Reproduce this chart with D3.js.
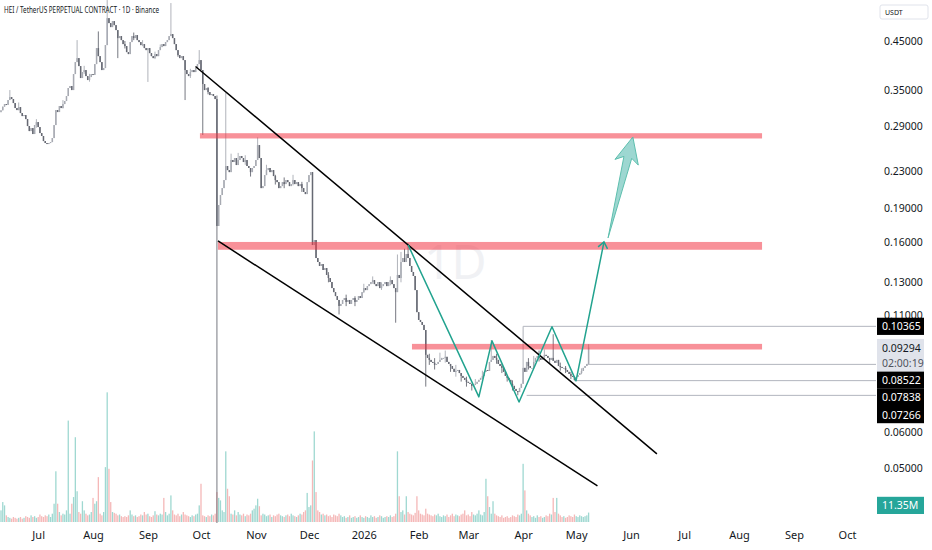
<!DOCTYPE html>
<html>
<head>
<meta charset="utf-8">
<script src="https://cdn.jsdelivr.net/npm/d3@7"></script>
<style>
  html, body { margin: 0; padding: 0; background: #fff; }
  svg { display: block; font-family: "Noto Sans", Roboto, sans-serif; }
</style>
</head>
<body>
<div id="chart"></div>
<script>
// daily candles, first one on 10 Jun 2025
var firstDay = new Date(2025, 5, 10);

// daily closes (USDT)
var closes = [
  0.3150, 0.3210, 0.3253, 0.3240, 0.3321, 0.3372, 0.3338, 0.3270, 0.3187, 0.3154,
  0.3203, 0.3106, 0.3058, 0.3074, 0.3011, 0.2905, 0.2831, 0.2875, 0.2788, 0.2920,
  0.2965, 0.2890, 0.2802, 0.2760, 0.2689, 0.2662, 0.2648, 0.2662, 0.2675, 0.2731,
  0.2920, 0.3154, 0.3122, 0.3220, 0.3187, 0.3253, 0.3304, 0.3390, 0.3533, 0.3569,
  0.3496, 0.3796, 0.4037, 0.4121, 0.3955, 0.3719, 0.3835, 0.3875, 0.3757, 0.3681,
  0.3738, 0.3796, 0.3780, 0.3996, 0.4339, 0.4163, 0.4037, 0.3875, 0.3915, 0.4406,
  0.5062, 0.4934, 0.4834, 0.4985, 0.4883, 0.4760, 0.4568, 0.4615, 0.4521, 0.4429,
  0.4384, 0.4250, 0.4207, 0.4475, 0.4615, 0.4568, 0.4639, 0.4521, 0.4475, 0.4406,
  0.4429, 0.4339, 0.4294, 0.4339, 0.4228, 0.4163, 0.4121, 0.4207, 0.4163, 0.4294,
  0.4361, 0.4429, 0.4384, 0.4475, 0.4521, 0.4615, 0.4663, 0.4568, 0.4429, 0.4294,
  0.4185, 0.4121, 0.4163, 0.4079, 0.3875, 0.3796, 0.3757, 0.3835, 0.3875, 0.3835,
  0.3915, 0.3996, 0.4079, 0.3875, 0.3606, 0.3496, 0.3533, 0.3460, 0.3407, 0.3425,
  0.3390, 0.3338, 0.1737, 0.1935, 0.2037, 0.2111, 0.2200, 0.2365, 0.2316, 0.2292,
  0.2439, 0.2414, 0.2464, 0.2377, 0.2439, 0.2490, 0.2464, 0.2414, 0.2439, 0.2365,
  0.2341, 0.2292, 0.2341, 0.2365, 0.2439, 0.2634, 0.2464, 0.2111, 0.2133, 0.2257,
  0.2316, 0.2341, 0.2292, 0.2316, 0.2246, 0.2200, 0.2177, 0.2111, 0.2133, 0.2177,
  0.2155, 0.2200, 0.2177, 0.2133, 0.2155, 0.2200, 0.2155, 0.2177, 0.2133, 0.2155,
  0.2111, 0.2069, 0.2047, 0.2177, 0.2257, 0.2292, 0.1575, 0.1616, 0.1473, 0.1443,
  0.1414, 0.1428, 0.1385, 0.1399, 0.1350, 0.1329, 0.1302, 0.1262, 0.1236, 0.1211,
  0.1187, 0.1151, 0.1163, 0.1187, 0.1199, 0.1175, 0.1187, 0.1163, 0.1187, 0.1199,
  0.1175, 0.1187, 0.1211, 0.1199, 0.1236, 0.1262, 0.1249, 0.1275, 0.1288, 0.1302,
  0.1315, 0.1288, 0.1275, 0.1302, 0.1262, 0.1275, 0.1288, 0.1302, 0.1275, 0.1302,
  0.1315, 0.1288, 0.1262, 0.1236, 0.1350, 0.1329, 0.1443, 0.1473, 0.1443, 0.1504,
  0.1473, 0.1414, 0.1371, 0.1343, 0.1249, 0.1115, 0.1071, 0.1060, 0.1044, 0.1017,
  0.0895, 0.0881, 0.0872, 0.0863, 0.0859, 0.0850, 0.0854, 0.0863, 0.0872, 0.0881,
  0.0881, 0.0886, 0.0863, 0.0854, 0.0845, 0.0833, 0.0820, 0.0824, 0.0828, 0.0815,
  0.0803, 0.0795, 0.0787, 0.0779, 0.0775, 0.0771, 0.0763, 0.0767, 0.0771, 0.0779,
  0.0787, 0.0795, 0.0803, 0.0820, 0.0828, 0.0824, 0.0863, 0.0872, 0.0890, 0.0881,
  0.0872, 0.0854, 0.0845, 0.0837, 0.0820, 0.0803, 0.0795, 0.0787, 0.0771, 0.0763,
  0.0751, 0.0743, 0.0739, 0.0755, 0.0771, 0.0837, 0.0820, 0.0863, 0.0845, 0.0837,
  0.0837, 0.0863, 0.0881, 0.0890, 0.0881, 0.0872, 0.0886, 0.0895, 0.0890, 0.0881,
  0.0872, 0.0881, 0.0868, 0.0859, 0.0872, 0.0845, 0.0841, 0.0837, 0.0837, 0.0828,
  0.0820, 0.0811, 0.0803, 0.0799, 0.0787, 0.0799, 0.0807, 0.0815, 0.0824, 0.0837,
  0.0845, 0.0854, 0.09294
];
var firstOpen = 0.3120;

// wicks: [day, high, low] (null = body edge)
var wicks = [
  [5, 0.3496, null], [10, 0.3280, 0.3150], [20, 0.3010, 0.2880], [35, 0.3320, 0.3180],
  [43, 0.4521, null], [47, 0.3960, 0.3800], [50, 0.3800, 0.3650], [55, 0.4727, null],
  [60, 0.5555, null], [66, null, 0.4121], [70, 0.4500, 0.4330], [75, 0.4700, 0.4520],
  [80, 0.4520, 0.4380], [83, null, 0.3645], [87, 0.4260, 0.4100], [90, 0.4420, 0.4300],
  [96, 0.5470, null], [100, 0.4270, 0.4150], [104, null, 0.3321], [107, 0.3900, 0.3720],
  [112, 0.4294, null], [114, null, 0.2775], [117, 0.3550, 0.3420], [122, 0.3400, 0.0360],
  [127, 0.3446, null], [130, 0.2520, 0.2380], [134, 0.2530, 0.2390], [138, 0.2500, 0.2380],
  [141, null, 0.2240], [145, 0.2740, null], [150, 0.2380, null], [155, 0.2260, 0.2150],
  [160, 0.2230, 0.2110], [165, 0.2260, 0.2140], [170, 0.2180, 0.2070], [185, 0.1370, 0.1300],
  [191, null, 0.1102], [195, 0.1220, 0.1150], [200, 0.1210, 0.1150], [205, 0.1290, 0.1230],
  [210, 0.1340, 0.1290], [215, 0.1300, 0.1250], [220, 0.1340, 0.1280], [223, null, 0.1056],
  [224, 0.1500, null], [226, 0.1520, 0.1300], [228, 0.1545, null], [230, 0.1590, null],
  [240, null, 0.0760], [242, 0.0900, 0.0850], [245, 0.0880, 0.0830], [248, 0.0905, null],
  [251, 0.0915, 0.0860], [254, null, 0.0820], [257, 0.0850, 0.0800], [260, null, 0.0780],
  [263, 0.0800, 0.0760], [266, null, 0.0745], [268, 0.0790, null], [272, 0.0825, 0.0790],
  [277, 0.0966, null], [280, 0.0900, 0.0855], [283, 0.0855, 0.0815], [286, null, 0.0780],
  [289, 0.0785, 0.0745], [292, null, 0.0727], [295, 0.10365, null], [298, 0.0880, 0.0830],
  [301, 0.0890, null], [304, 0.0915, 0.0865], [307, 0.0920, 0.0875], [310, null, 0.0855],
  [312, 0.0995, null], [316, 0.0860, 0.0825], [319, 0.0845, 0.0815], [322, 0.0820, 0.0790],
  [324, null, 0.0784], [328, 0.0835, 0.0810], [332, 0.0945, null]
];

// daily volume, millions
var volumes = [
  14, 24, 20, 8, 6, 5, 4, 6, 5, 4,
  5, 6, 4, 5, 7, 6, 5, 8, 6, 7,
  5, 6, 9, 7, 6, 8, 7, 9, 6, 10,
  22, 61, 22, 12, 8, 10, 9, 14, 122, 10,
  22, 30, 102, 37, 12, 10, 25, 14, 10, 8,
  9, 12, 29, 22, 25, 54, 10, 8, 12, 66,
  156, 64, 24, 12, 11, 10, 8, 9, 7, 6,
  7, 6, 8, 14, 9, 7, 8, 6, 7, 9,
  8, 12, 9, 10, 7, 6, 8, 13, 9, 8,
  10, 9, 29, 12, 8, 10, 32, 14, 9, 8,
  10, 7, 9, 12, 9, 8, 7, 6, 8, 7,
  9, 10, 20, 46, 8, 7, 6, 8, 7, 9,
  8, 10, 36, 29, 26, 14, 12, 85, 40, 31,
  10, 9, 14, 8, 12, 9, 8, 10, 7, 9,
  8, 10, 14, 16, 20, 28, 19, 8, 10, 9,
  7, 8, 9, 6, 8, 7, 9, 10, 8, 7,
  6, 8, 9, 7, 10, 8, 7, 6, 8, 10,
  9, 12, 14, 35, 18, 20, 74, 109, 36, 14,
  12, 9, 10, 8, 9, 7, 8, 6, 9, 8,
  7, 10, 8, 6, 7, 5, 6, 8, 5, 6,
  7, 5, 6, 8, 6, 5, 7, 6, 5, 8,
  6, 7, 5, 6, 8, 7, 5, 6, 7, 6,
  8, 6, 7, 10, 85, 31, 12, 14, 9, 31,
  12, 10, 9, 8, 11, 31, 14, 10, 9, 8,
  16, 10, 9, 8, 7, 9, 8, 10, 7, 6,
  8, 7, 9, 6, 8, 10, 7, 9, 8, 7,
  9, 10, 14, 8, 9, 7, 12, 9, 8, 10,
  14, 9, 8, 12, 52, 31, 18, 10, 25, 10,
  8, 7, 6, 8, 5, 6, 7, 5, 6, 8,
  7, 6, 9, 8, 10, 70, 38, 14, 10, 8,
  6, 7, 5, 8, 6, 7, 5, 6, 8, 7,
  10, 9, 29, 12, 29, 10, 8, 6, 7, 5,
  6, 8, 7, 6, 9, 7, 6, 8, 7, 6,
  7, 8, 11.35
];

var priceTicks = [0.45, 0.35, 0.29, 0.23, 0.19, 0.16, 0.13, 0.11, 0.06, 0.05, 0.042];

// drawings, anchored on [day, price]
var zones = [
  { from: 112.4, to: 430, hi: 0.2800, lo: 0.2725 },
  { from: 122.6, to: 430, hi: 0.1600, lo: 0.1537 },
  { from: 232.2, to: 430, hi: 0.0947, lo: 0.0920 }
];
var channel = [
  [[109.9, 0.3947], [370.6, 0.05378]],
  [[122.6, 0.1608], [337.0, 0.04561]]
];
var zigzag = [[230, 0.1576], [270, 0.0721], [277.4, 0.0962], [292.7, 0.0702],
              [311.3, 0.1034], [324.9, 0.0783], [340.7, 0.1600]];
var target = [[343, 0.1634], [357, 0.2746]];
var levels = [
  { from: 295, v: 0.10365 }, { from: 331, v: 0.08522 },
  { from: 324, v: 0.07838 }, { from: 297, v: 0.07266 }
];
var lastPrice = 0.09294, countdown = "02:00:19", lastVolume = "11.35M";

var width = 932, height = 550;
var plotW = 876, plotH = 523;

var dayMs = 864e5;
function dayDate(i) { return new Date(firstDay.getTime() + i * dayMs); }

var x = d3.scaleTime()
  .domain([firstDay, new Date(2026, 9, 1)])
  .range([1, 847]);
var y = d3.scaleLog()
  .domain([0.45, 0.05])
  .range([41, 468]);
var vy = d3.scaleLinear()
  .domain([0, 160])
  .range([522, 389]);

function px(p) { return [x(dayDate(p[0])), y(p[1])]; }

// build candles
var wickMap = {};
wicks.forEach(function(w) { wickMap[w[0]] = w; });
var candles = closes.map(function(c, i) {
  var o = i === 0 ? firstOpen : closes[i - 1];
  var w = wickMap[i];
  var h = Math.max(o, c), l = Math.min(o, c);
  if (w && w[1] !== null) h = Math.max(h, w[1]);
  if (w && w[2] !== null) l = Math.min(l, w[2]);
  return { i: i, date: dayDate(i), o: o, c: c, h: h, l: l, v: volumes[i], up: c >= o };
});

var upColor = "#a7aab2", downColor = "#666973";

var svg = d3.select("#chart").append("svg")
  .attr("width", width)
  .attr("height", height);

svg.append("defs").append("clipPath").attr("id", "plot")
  .append("rect").attr("x", 0).attr("y", 0).attr("width", plotW).attr("height", plotH);

var plot = svg.append("g").attr("clip-path", "url(#plot)");

// faint interval watermark
plot.append("text")
  .attr("x", 424).attr("y", 279)
  .attr("font-size", 48)
  .attr("fill", "#f0f1f4")
  .text("1D");

// volume
plot.selectAll(".vol")
  .data(candles)
  .enter().append("rect")
  .attr("class", "vol")
  .attr("x", function(d) { return x(d.date) - 0.65; })
  .attr("width", 1.3)
  .attr("y", function(d) { return vy(d.v); })
  .attr("height", function(d) { return vy(0) - vy(d.v); })
  .attr("fill", function(d) { return d.up ? "#9fd8d1" : "#f5b8b8"; });

// candles
var candle = plot.selectAll(".candle")
  .data(candles)
  .enter().append("g")
  .attr("class", "candle");

candle.append("line")
  .attr("x1", function(d) { return x(d.date); })
  .attr("x2", function(d) { return x(d.date); })
  .attr("y1", function(d) { return y(d.h); })
  .attr("y2", function(d) { return y(d.l); })
  .attr("stroke", function(d) { return d.up ? upColor : downColor; })
  .attr("stroke-width", 0.9);

candle.append("rect")
  .attr("x", function(d) { return x(d.date) - 0.75; })
  .attr("width", 1.5)
  .attr("y", function(d) { return y(Math.max(d.o, d.c)); })
  .attr("height", function(d) { return Math.max(1, Math.abs(y(d.o) - y(d.c))); })
  .attr("fill", function(d) { return d.up ? upColor : downColor; });

// horizontal rays
plot.selectAll(".level")
  .data(levels)
  .enter().append("line")
  .attr("class", "level")
  .attr("x1", function(d) { return x(dayDate(d.from)); })
  .attr("x2", plotW)
  .attr("y1", function(d) { return y(d.v); })
  .attr("y2", function(d) { return y(d.v); })
  .attr("stroke", "#b2b5be")
  .attr("stroke-width", 1);

// supply / demand zones
plot.selectAll(".zone")
  .data(zones)
  .enter().append("rect")
  .attr("class", "zone")
  .attr("x", function(d) { return x(dayDate(d.from)); })
  .attr("width", function(d) { return x(dayDate(d.to)) - x(dayDate(d.from)); })
  .attr("y", function(d) { return y(d.hi); })
  .attr("height", function(d) { return y(d.lo) - y(d.hi); })
  .attr("fill", "rgba(242,54,69,0.55)");

// falling wedge
var line = d3.line().x(function(p) { return px(p)[0]; }).y(function(p) { return px(p)[1]; });
plot.selectAll(".channel")
  .data(channel)
  .enter().append("path")
  .attr("class", "channel")
  .attr("d", line)
  .attr("fill", "none")
  .attr("stroke", "#000")
  .attr("stroke-width", 1.5);

// projected path
plot.append("path")
  .attr("d", line(zigzag))
  .attr("fill", "none")
  .attr("stroke", "#22a38f")
  .attr("stroke-width", 1.5)
  .attr("stroke-linejoin", "round");

// little head at the end of the path
(function() {
  var a = px(zigzag[zigzag.length - 2]), b = px(zigzag[zigzag.length - 1]);
  var dx = b[0] - a[0], dy = b[1] - a[1], len = Math.sqrt(dx * dx + dy * dy);
  var ux = dx / len, uy = dy / len, nx = -uy, ny = ux, s = 6;
  plot.append("path")
    .attr("d", "M" + (b[0] - ux * s + nx * s * 0.8) + "," + (b[1] - uy * s + ny * s * 0.8) +
               "L" + b[0] + "," + b[1] +
               "L" + (b[0] - ux * s - nx * s * 0.8) + "," + (b[1] - uy * s - ny * s * 0.8))
    .attr("fill", "none")
    .attr("stroke", "#22a38f")
    .attr("stroke-width", 1.5);
})();

// big target arrow
(function() {
  var t = px(target[0]), h = px(target[1]);
  var dx = h[0] - t[0], dy = h[1] - t[1], len = Math.sqrt(dx * dx + dy * dy);
  var ux = dx / len, uy = dy / len, nx = -uy, ny = ux;
  function at(back, side) {
    return [h[0] - ux * back + nx * side, h[1] - uy * back + ny * side];
  }
  var pts = [t, at(21, -4), at(26, -12), h, at(26, 12), at(21, 4)];
  plot.append("path")
    .attr("d", "M" + pts.map(function(p) { return p.join(","); }).join("L") + "Z")
    .attr("fill", "rgba(38,166,154,0.45)")
    .attr("stroke", "#5dbfae")
    .attr("stroke-width", 1);
})();

// title
svg.append("text")
  .attr("x", 4).attr("y", 13)
  .attr("font-size", 8)
  .attr("textLength", 155)
  .attr("lengthAdjust", "spacingAndGlyphs")
  .attr("fill", "#131722")
  .text("HEI / TetherUS PERPETUAL CONTRACT · 1D · Binance");

// time axis
var months = d3.timeMonth.range(new Date(2025, 6, 1), new Date(2026, 9, 2));
svg.append("g")
  .attr("transform", "translate(0," + plotH + ")")
  .call(d3.axisBottom(x)
    .tickValues(months)
    .tickSize(0)
    .tickPadding(8)
    .tickFormat(function(d) { return d.getMonth() === 0 ? d3.timeFormat("%Y")(d) : d3.timeFormat("%b")(d); }))
  .call(function(g) {
    g.select(".domain").remove();
    g.selectAll("text").attr("font-size", 11).attr("fill", "#131722")
      .attr("font-family", "'Noto Sans', Roboto, sans-serif");
  });

// price axis
svg.append("g")
  .attr("transform", "translate(" + plotW + ",0)")
  .call(d3.axisRight(y)
    .tickValues(priceTicks)
    .tickSize(0)
    .tickPadding(8)
    .tickFormat(d3.format(".5f")))
  .call(function(g) {
    g.select(".domain").remove();
    g.selectAll("text").attr("font-size", 10.5).attr("fill", "#131722")
      .attr("font-family", "'Noto Sans', Roboto, sans-serif");
  });

// currency box
svg.append("rect")
  .attr("x", 880).attr("y", 5).attr("width", 48).attr("height", 14).attr("rx", 2)
  .attr("fill", "#fff").attr("stroke", "#e0e3eb");
svg.append("text")
  .attr("x", 885).attr("y", 15)
  .attr("font-size", 7).attr("fill", "#131722")
  .text("USDT");

// price labels on the axis, stacked so they don't overlap
var tags = [
  { v: 0.10365, bg: "#000", fg: "#fff" },
  { v: lastPrice, bg: "#e0e3eb", fg: "#131722", sub: countdown },
  { v: 0.08522, bg: "#000", fg: "#fff" },
  { v: 0.07838, bg: "#000", fg: "#fff" },
  { v: 0.07266, bg: "#000", fg: "#fff" }
];
var lineH = 17.2, prevBottom = -Infinity;
tags.forEach(function(t) {
  var top = Math.max(y(t.v) - lineH / 2, prevBottom);
  var h = t.sub ? lineH * 1.9 : lineH;
  t.top = top; t.h = h;
  prevBottom = top + h;
});
var tag = svg.selectAll(".tag")
  .data(tags)
  .enter().append("g")
  .attr("class", "tag");
tag.append("rect")
  .attr("x", 877).attr("width", 47)
  .attr("y", function(d) { return d.top; })
  .attr("height", function(d) { return d.h; })
  .attr("fill", function(d) { return d.bg; });
tag.append("text")
  .attr("x", 882)
  .attr("y", function(d) { return d.top + lineH / 2 + 4; })
  .attr("font-size", 10.5)
  .attr("fill", function(d) { return d.fg; })
  .text(function(d) { return d3.format(".5f")(d.v); });
tag.filter(function(d) { return d.sub; }).append("text")
  .attr("x", 882)
  .attr("y", function(d) { return d.top + lineH * 1.4 + 4; })
  .attr("font-size", 10.5)
  .attr("fill", "#50535e")
  .text(function(d) { return d.sub; });

// volume label
var volTop = Math.min(vy(volumes[volumes.length - 1]) - lineH / 2, 514 - lineH);
svg.append("rect")
  .attr("x", 877).attr("y", volTop).attr("width", 47).attr("height", lineH)
  .attr("fill", "#26a69a");
svg.append("text")
  .attr("x", 882).attr("y", volTop + lineH / 2 + 4)
  .attr("font-size", 10.5).attr("fill", "#fff")
  .text(lastVolume);
</script>
</body>
</html>
